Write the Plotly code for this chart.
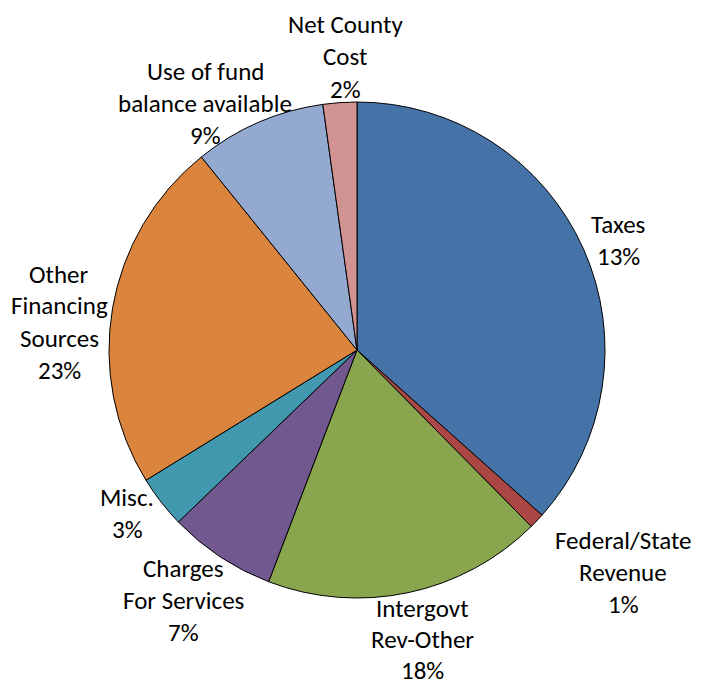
import plotly.graph_objects as go

# Budget sources, in drawing order (clockwise from 12 o'clock)
categories = [
    "Taxes",
    "Federal/State Revenue",
    "Intergovt Rev-Other",
    "Charges For Services",
    "Misc.",
    "Other Financing Sources",
    "Use of fund balance available",
    "Net County Cost",
]
shares = [36.6, 1.0, 18.2, 7.0, 3.4, 23.0, 8.6, 2.2]
pct_labels = ["13%", "1%", "18%", "7%", "3%", "23%", "9%", "2%"]
label_lines = [
    ["Taxes"],
    ["Federal/State", "Revenue"],
    ["Intergovt", "Rev-Other"],
    ["Charges", "For Services"],
    ["Misc."],
    ["Other", "Financing", "Sources"],
    ["Use of fund", "balance available"],
    ["Net County", "Cost"],
]

colors = ["#4572A7", "#AA4643", "#89A54E", "#71588F",
          "#4198AF", "#DB843D", "#93A9CF", "#D19392"]

W, H = 713, 685
FONT = dict(family="Carlito, Calibri, Lato, sans-serif", size=25, color="black")

# where each label block starts (centre of first line, in pixels) and line gap
label_anchor = [
    (618, 224, 32.0), (623, 540, 32.0), (422, 608, 31.0), (183, 568, 32.0),
    (127, 497, 32.0), (59, 274, 32.0), (205, 71, 32.0), (345, 25, 32.0),
]

fig = go.Figure(go.Pie(
    labels=categories,
    values=shares,
    sort=False,
    direction="clockwise",
    rotation=0,
    textinfo="none",
    hoverinfo="label+percent",
    marker=dict(colors=colors, line=dict(color="black", width=1)),
    domain=dict(x=[109 / W, 605 / W], y=[1 - 598 / H, 1 - 102 / H]),
    showlegend=False,
))

annotations = []
for lines, pct, (ax, ay, gap) in zip(label_lines, pct_labels, label_anchor):
    for i, txt in enumerate(lines + [pct]):
        annotations.append(dict(
            x=ax / W, y=1 - (ay + i * gap) / H,
            xref="paper", yref="paper",
            text=txt, showarrow=False, font=FONT,
            xanchor="center", yanchor="middle", borderpad=0,
        ))

fig.update_layout(
    width=W, height=H,
    margin=dict(l=0, r=0, t=0, b=0),
    paper_bgcolor="white",
    plot_bgcolor="white",
    annotations=annotations,
)

fig.write_html("out.html")
